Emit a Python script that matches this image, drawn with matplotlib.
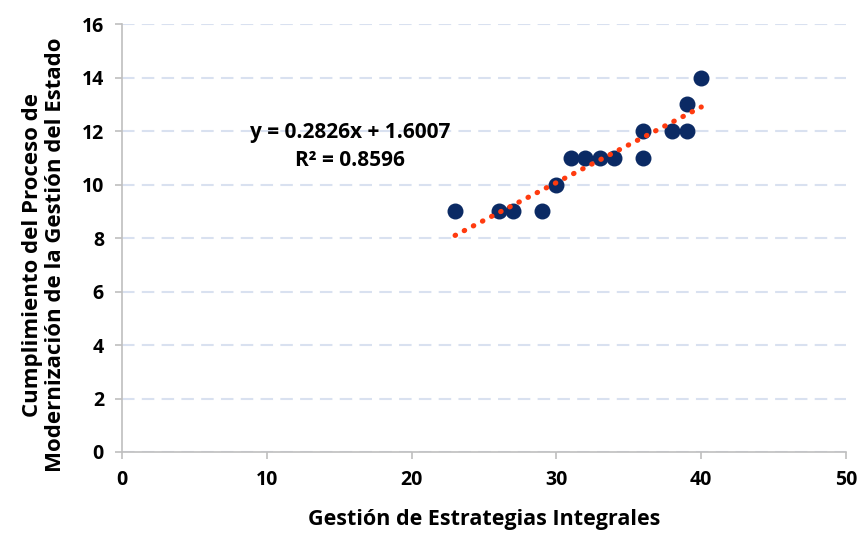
import matplotlib.pyplot as plt
import numpy as np

plt.rcParams["font.family"] = ["Open Sans", "DejaVu Sans"]
plt.rcParams["font.weight"] = "bold"

# data
x_vals = [23, 26, 27, 29, 30, 31, 32, 33, 34, 36, 36, 38, 39, 39, 40]
y_vals = [9, 9, 9, 9, 10, 11, 11, 11, 11, 12, 11, 12, 13, 12, 14]
slope = 0.2826
intercept = 1.6007
r2 = 0.8596

fig = plt.figure(figsize=(8.61, 5.34), dpi=100)
ax = fig.add_axes([0.1417, 0.1536, 0.841, 0.801])

ax.set_xlim(0, 50)
ax.set_ylim(0, 16)
ax.set_xticks(range(0, 51, 10))
ax.set_yticks(range(0, 17, 2))

ax.grid(axis="y", color="#D9E1F0", linestyle=(0, (6, 3.5)), linewidth=1.5)
ax.set_axisbelow(True)

ax.scatter(x_vals, y_vals, s=110, color="#0B2A64", zorder=3)

xt = np.array([min(x_vals), max(x_vals)])
ax.plot(xt, slope * xt + intercept, color="#FF3B0F", linestyle=(0, (0.1, 1.9)),
        linewidth=3.7, dash_capstyle="round", zorder=4)

ax.text(15.75, 11.96, f"y = {slope}x + {intercept}", ha="center", va="center",
        fontsize=15, fontweight="bold")
ax.text(15.75, 10.92, f"R² = {r2}", ha="center", va="center",
        fontsize=15, fontweight="bold")

for side in ["top", "right"]:
    ax.spines[side].set_visible(False)
for side in ["left", "bottom"]:
    ax.spines[side].set_color("#BFBFBF")
    ax.spines[side].set_linewidth(1.2)
ax.tick_params(color="#BFBFBF", length=5, width=1.2, labelsize=14, pad=8)
for lab in ax.get_xticklabels() + ax.get_yticklabels():
    lab.set_fontweight("bold")

ax.set_xlabel("Gestión de Estrategias Integrales", fontsize=15.5, fontweight="bold", labelpad=14)
ax.set_ylabel("Cumplimiento del Proceso de\nModernización de la Gestión del Estado",
              fontsize=16, fontweight="bold", linespacing=1.1)
ax.yaxis.set_label_coords(-0.078, 0.46)

fig.savefig("out.png", dpi=100)
